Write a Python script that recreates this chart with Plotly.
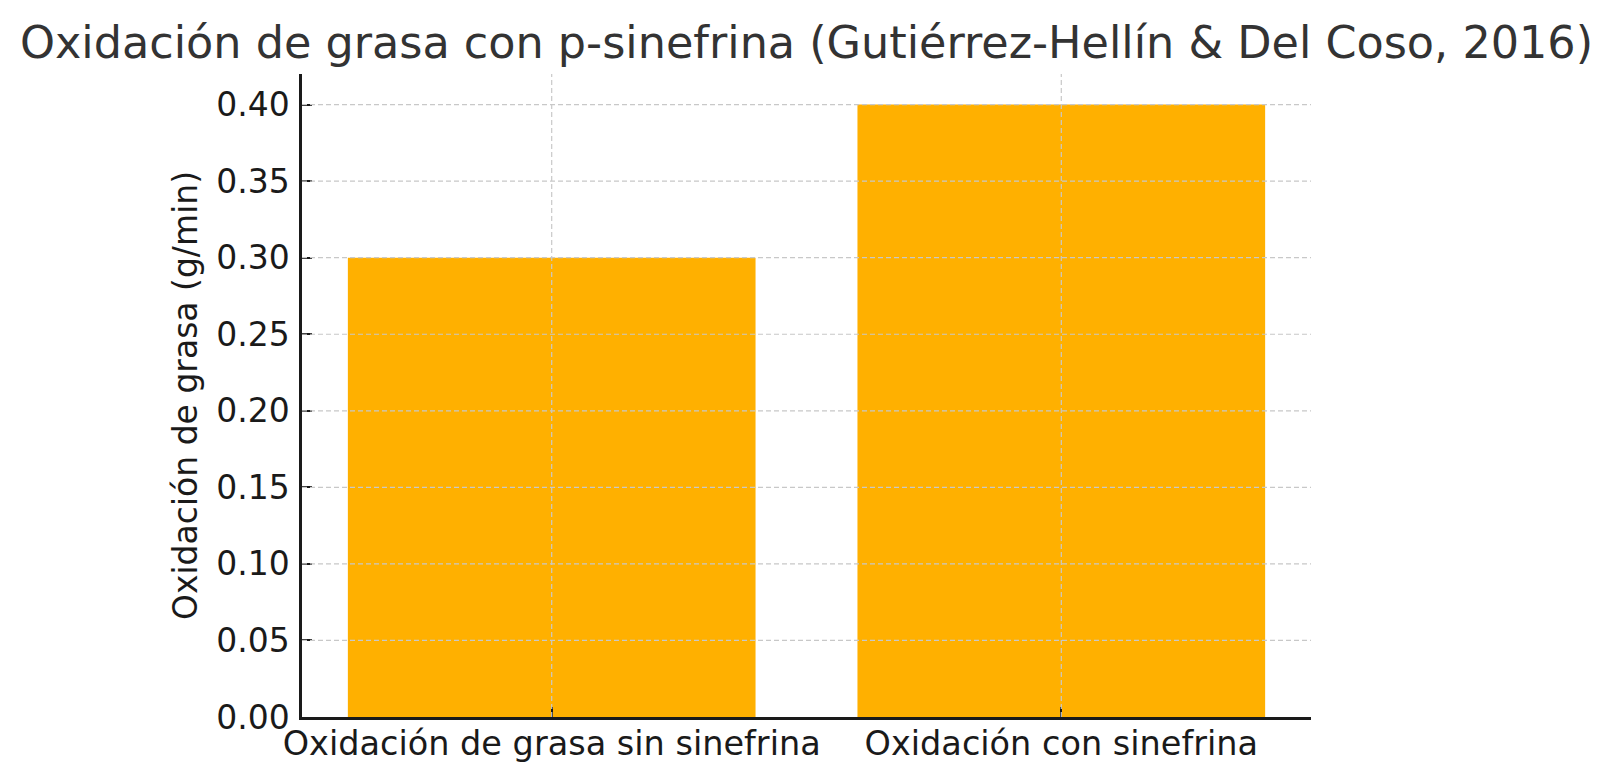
import plotly.graph_objects as go

categories = ["Oxidación de grasa sin sinefrina", "Oxidación con sinefrina"]
values = [0.30, 0.40]
tick_vals = [0.00, 0.05, 0.10, 0.15, 0.20, 0.25, 0.30, 0.35, 0.40]
tick_text = ["0.00", "0.05", "0.10", "0.15", "0.20", "0.25", "0.30", "0.35", "0.40"]

x_pos = list(range(len(categories)))

fig = go.Figure()
fig.add_trace(go.Bar(
    x=x_pos, y=values, width=0.8,
    marker=dict(color="#FFB000", line=dict(width=0)),
))

grid_style = dict(color="#c8c8c8", width=1.2, dash="5px,3px")
# grid drawn above the bars, at the tick positions
for v in tick_vals[1:]:
    fig.add_shape(type="line", xref="paper", yref="y", x0=0, x1=1, y0=v, y1=v,
                  line=grid_style, layer="above")
for xv in x_pos:
    fig.add_shape(type="line", xref="x", yref="paper", x0=xv, x1=xv, y0=0, y1=1,
                  line=grid_style, layer="above")

fig.update_layout(
    width=1612, height=780,
    paper_bgcolor="white", plot_bgcolor="white",
    margin=dict(l=294, r=309, t=66, b=71),
    font=dict(family="DejaVu Sans", color="#1a1a1a", size=33),
    title=dict(text="Oxidación de grasa con p-sinefrina (Gutiérrez-Hellín & Del Coso, 2016)",
               x=0.5, xref="paper", xanchor="center", y=0.976, yref="container", yanchor="top",
               font=dict(size=44.5, color="#333333")),
    showlegend=False,
)
fig.update_xaxes(
    range=[-0.49, 1.49], tickmode="array", tickvals=x_pos,
    ticktext=categories, showline=True, linecolor="#1a1a1a", linewidth=2.5,
    ticks="inside", ticklen=10, tickwidth=2, tickcolor="#1a1a1a",
    showgrid=False, zeroline=False, layer="above traces", tickfont=dict(size=33.5),
    ticklabelstandoff=-5,
)
fig.update_yaxes(
    range=[0, 0.42], tickmode="array", tickvals=tick_vals, ticktext=tick_text,
    showline=True, linecolor="#1a1a1a", linewidth=2.5,
    ticks="inside", ticklen=10, tickwidth=2, tickcolor="#1a1a1a",
    showgrid=False, zeroline=False, layer="above traces", tickfont=dict(size=33),
    ticklabelstandoff=3,
    title=dict(text="Oxidación de grasa (g/min)", font=dict(size=33), standoff=9),
)

fig.write_html("out.html")
